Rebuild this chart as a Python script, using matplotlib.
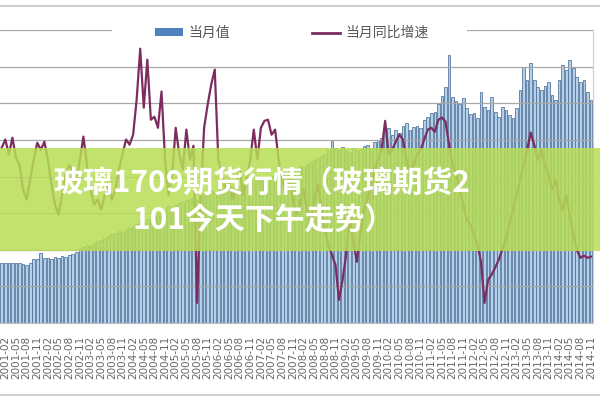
import pandas as pd
import matplotlib.pyplot as plt
import numpy as np
from matplotlib.patches import Rectangle, Patch
from matplotlib.lines import Line2D

plt.rcParams['font.family'] = ['Noto Sans CJK SC', 'DejaVu Sans']

# 월별 데이터 (2001-01 ~ 2014-11)
months = pd.date_range('2001-01-01', '2014-11-01', freq='MS')

# 当月值
monthly_value = [
    1640, 1640, 1640, 1640, 1640, 1640, 1610, 1580, 1640, 1750,
    1750, 1910, 1780, 1780, 1750, 1800, 1780, 1830, 1800, 1860,
    1890, 1940, 2020, 2080, 2130, 2100, 2190, 2240, 2270, 2320,
    2380, 2430, 2460, 2510, 2490, 2570, 2600, 2650, 2700, 2760,
    2730, 2840, 2870, 2920, 2980, 3030, 3090, 3200, 3110, 3220,
    3280, 3310, 3360, 3390, 3420, 3360, 3470, 3520, 3550, 3610,
    3580, 3630, 3660, 3690, 3630, 3720, 3770, 3740, 3800, 3820,
    3850, 3910, 3880, 3930, 3960, 3990, 4020, 3960, 4040, 4100,
    4130, 4180, 4150, 4230, 4290, 4260, 4340, 4400, 4450, 4510,
    4560, 4620, 4730, 5000, 4780, 4730, 4810, 4730, 4670, 4780,
    4700, 4750, 4840, 4860, 4780, 4950, 5000, 5050, 5220, 5330,
    5140, 5270, 5190, 5380, 5460, 5270, 5350, 5380, 5330, 5550,
    5630, 5740, 5760, 5980, 6200, 6450, 7320, 6170, 6070, 5980,
    6150, 5870, 5710, 5740, 5600, 6310, 5900, 5820, 6170, 5760,
    5630, 5900, 5820, 5680, 5600, 5870, 6370, 6990, 6640, 7100,
    6640, 6450, 6370, 6470, 6580, 6230, 6090, 6640, 7050, 6910,
    7190, 6970, 6720, 6580, 6640, 6310, 6090,
]

# 当月同比增速 (%)
yoy_growth = [
    27.9, 30.1, 26.0, 30.6, 25.1, 23.2, 16.4, 13.7, 19.1, 24.6,
    29.2, 27.3, 29.5, 24.6, 17.8, 12.3, 9.6, 15.0, 20.5, 23.2,
    21.3, 17.8, 24.6, 30.9, 23.2, 16.4, 12.3, 13.7, 10.9, 15.0,
    17.8, 13.7, 16.4, 21.9, 26.0, 30.1, 28.7, 31.4, 41.0, 54.9,
    38.8, 51.9, 35.5, 36.3, 33.3, 43.2, 24.6, 15.0, 20.5, 33.3,
    26.0, 21.9, 32.8, 24.6, 28.4, -14.5, 13.7, 33.3, 39.6, 45.1,
    49.2, 24.6, 20.5, 16.4, 19.1, 13.7, 17.8, 21.9, 15.0, 19.1,
    24.6, 32.8, 24.6, 33.3, 35.2, 35.5, 31.4, 32.8, 24.6, 19.1,
    15.0, 20.5, 13.7, 9.6, 12.3, 16.4, 10.9, 6.8, 13.7, 17.8,
    12.3, 5.5, 1.4, -1.4, -4.1, -13.7, -8.2, -1.4, 8.2, 2.7,
    -3.3, 4.1, 10.9, 13.7, 17.8, 21.9, 24.6, 27.3, 35.2, 26.0,
    27.3, 29.5, 31.4, 30.1, 24.6, 20.5, 23.2, 26.0, 27.3, 30.1,
    32.8, 33.3, 32.2, 35.5, 36.1, 35.0, 28.7, 23.2, 20.5, 16.4,
    12.3, 8.2, 6.8, 4.1, 1.4, -3.3, -14.5, -8.2, -6.8, -4.9,
    -2.7, 0.0, 2.7, 6.8, 10.9, 15.0, 19.1, 23.2, 27.3, 32.0,
    28.7, 24.6, 27.3, 23.2, 20.5, 16.4, 19.1, 13.7, 10.9, 15.0,
    9.6, 4.1, 0.0, -2.2, -1.6, -2.2, -1.9,
]

title_line1 = '玻璃1709期货行情（玻璃期货2'
title_line2 = '101今天下午走势）'

x = np.arange(len(months))
tick_pos = x[1::3]
tick_labels = [m.strftime('%Y-%m') for m in months[1::3]]

fig = plt.figure(figsize=(6, 4), dpi=100)
ax = fig.add_axes([0, 0.1925, 0.988, 0.7325])

ax.bar(x, monthly_value, width=0.75, color='#b3d1ea', edgecolor='#4d6e98', linewidth=0.55)
ax.set_xlim(-0.5, len(months) - 0.5)
ax.set_ylim(0, 8000)
ax.set_yticks(np.arange(0, 8001, 1000))
ax.yaxis.grid(True, color='#a8a8a8', linewidth=0.9)
ax.set_yticklabels([])
ax.tick_params(axis='y', length=0)
ax.set_xticks(tick_pos)
ax.set_xticklabels(tick_labels, rotation=90, fontsize=7.5, color='#666666',
                   family=['DejaVu Sans'])
ax.tick_params(axis='x', length=0, pad=9)
for s in ['top', 'left']:
    ax.spines[s].set_visible(False)
ax.spines['bottom'].set_color('#bfbfbf')
ax.spines['right'].set_color('#cfcfcf')

ax2 = ax.twinx()
ax2.plot(x, yoy_growth, color='#7b2d60', linewidth=1.6)
ax2.set_ylim(-20, 60)
ax2.set_yticks([])
for s in ['top', 'left', 'bottom']:
    ax2.spines[s].set_visible(False)
ax2.spines['right'].set_color('#cfcfcf')

# 범례 (흰 배경)
fig.patches.append(Rectangle((112 / 600, 1 - 42 / 400), 355 / 600, 20 / 400,
                             transform=fig.transFigure, facecolor='white',
                             edgecolor='none', zorder=1))
handles = [Patch(facecolor='#4f81bd', edgecolor='none'),
           Line2D([0], [0], color='#7b2d60', linewidth=2)]
leg = fig.legend(handles, ['当月值', '当月同比增速'], loc='center',
                 bbox_to_anchor=(0.486, 1 - 33 / 400), ncol=2, frameon=False,
                 fontsize=10, handlelength=2.0, handleheight=0.5,
                 handletextpad=0.4, columnspacing=5.9)
for t in leg.get_texts():
    t.set_color('#595959')
leg.set_zorder(2)

# 테두리 선
fig.add_artist(Line2D([0, 1], [1 - 6 / 400, 1 - 6 / 400], color='#d0d0d0',
                      linewidth=1.5, transform=fig.transFigure))
fig.add_artist(Line2D([0, 1], [1 - 395 / 400, 1 - 395 / 400], color='#d0d0d0',
                      linewidth=1.5, transform=fig.transFigure))

# 녹색 배너
fig.patches.append(Rectangle((0, 1 - 251 / 400), 1, 103 / 400,
                             transform=fig.transFigure, facecolor='#b8dd55',
                             edgecolor='none', alpha=0.85, zorder=3))
fig.text(262 / 600, 1 - 183 / 400, title_line1, ha='center', va='center',
         fontsize=21.5, fontweight='bold', color='white', zorder=4)
fig.text(264 / 600, 1 - 221 / 400, title_line2, ha='center', va='center',
         fontsize=21.5, fontweight='bold', color='white', zorder=4)

fig.savefig('out.png', dpi=100)
